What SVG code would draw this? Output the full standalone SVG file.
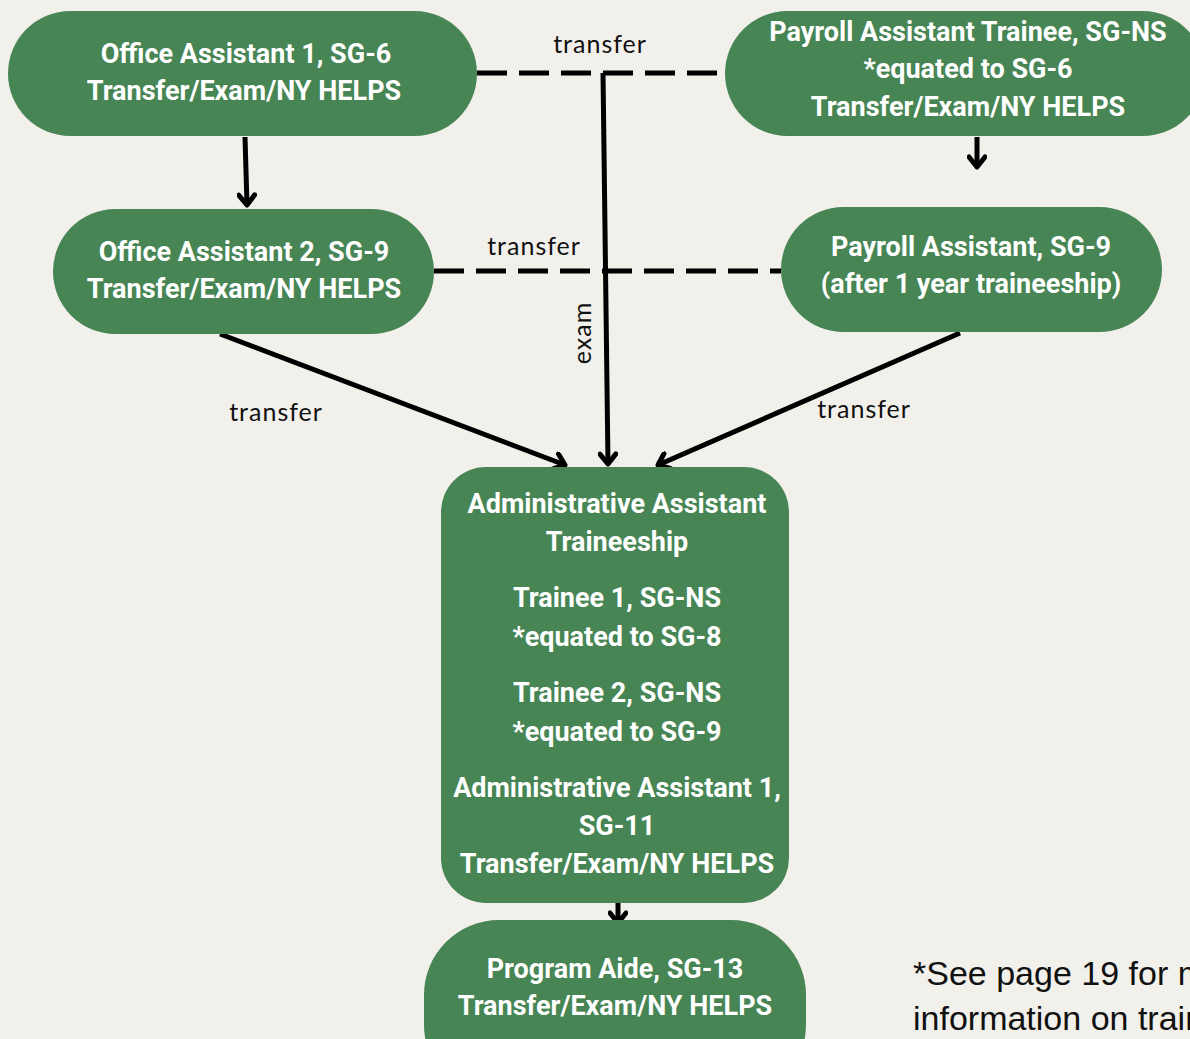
<svg xmlns="http://www.w3.org/2000/svg" width="1190" height="1039" viewBox="0 0 1190 1039">
<style>
.node{fill:#478555}
.nt{font-family:Roboto,"Liberation Sans",sans-serif;font-weight:bold;font-size:27px;fill:#fff;text-anchor:middle}
.ln{stroke:#000;stroke-width:5;fill:none}
.dash{stroke:#000;stroke-width:5;fill:none;stroke-dasharray:30,12}
.lbl{font-family:Lato,"Noto Sans",sans-serif;font-size:25px;letter-spacing:1px;fill:#111}
.foot{font-family:"Liberation Sans",Arial,sans-serif;font-size:34px;fill:#111}
</style>
<defs>
<marker id="ah" viewBox="0 0 20 20" refX="14" refY="10" markerWidth="20" markerHeight="20" markerUnits="userSpaceOnUse" orient="auto">
<path d="M4,2 L14,10 L4,18" fill="none" stroke="#000" stroke-width="5" stroke-linecap="round" stroke-linejoin="round"/>
</marker>
</defs>
<rect width="1190" height="1039" fill="#f2f0eb"/>
<g id="connectors">
<path class="dash" d="M477,73 H725"/>
<path class="dash" d="M434,271 H781"/>
<path class="ln" d="M245,137 L247,205" marker-end="url(#ah)"/>
<path class="ln" d="M603,73 L608,464" marker-end="url(#ah)"/>
<path class="ln" d="M977,137 L977,167" marker-end="url(#ah)"/>
<path class="ln" d="M220,334 L565,465" marker-end="url(#ah)"/>
<path class="ln" d="M960,333 L658,465" marker-end="url(#ah)"/>
<path class="ln" d="M618,893 L618,923" marker-end="url(#ah)"/>
<text class="lbl" x="600" y="53" text-anchor="middle">transfer</text>
<text class="lbl" x="534" y="255" text-anchor="middle">transfer</text>
<text class="lbl" x="276" y="421" text-anchor="middle">transfer</text>
<text class="lbl" x="864" y="418" text-anchor="middle">transfer</text>
<text class="lbl" x="0" y="0" text-anchor="middle" transform="translate(591,333) rotate(-90)">exam</text>
</g>
<g id="oa1">
<rect class="node" x="8" y="11" width="469" height="125" rx="62.5"/>
<text class="nt" x="246" y="63">Office Assistant 1, SG-6</text>
<text class="nt" x="244" y="100">Transfer/Exam/NY HELPS</text>
</g>
<g id="pat">
<rect class="node" x="725" y="11" width="480" height="125" rx="62.5"/>
<text class="nt" x="968" y="41">Payroll Assistant Trainee, SG-NS</text>
<text class="nt" x="968" y="78">*equated to SG-6</text>
<text class="nt" x="968" y="116">Transfer/Exam/NY HELPS</text>
</g>
<g id="oa2">
<rect class="node" x="53" y="209" width="381" height="125" rx="62.5"/>
<text class="nt" x="244" y="261">Office Assistant 2, SG-9</text>
<text class="nt" x="244" y="298">Transfer/Exam/NY HELPS</text>
</g>
<g id="pa">
<rect class="node" x="781" y="207" width="381" height="125" rx="62.5"/>
<text class="nt" x="971" y="256">Payroll Assistant, SG-9</text>
<text class="nt" x="971" y="293">(after 1 year traineeship)</text>
</g>
<g id="aat">
<rect class="node" x="441" y="467" width="348" height="436" rx="45"/>
<text class="nt" x="617" y="513">Administrative Assistant</text>
<text class="nt" x="617" y="551">Traineeship</text>
<text class="nt" x="617" y="607">Trainee 1, SG-NS</text>
<text class="nt" x="617" y="646">*equated to SG-8</text>
<text class="nt" x="617" y="702">Trainee 2, SG-NS</text>
<text class="nt" x="617" y="741">*equated to SG-9</text>
<text class="nt" x="617" y="797">Administrative Assistant 1,</text>
<text class="nt" x="617" y="835">SG-11</text>
<text class="nt" x="617" y="873">Transfer/Exam/NY HELPS</text>
</g>
<g id="pa13">
<rect class="node" x="424" y="920" width="382" height="180" rx="75"/>
<text class="nt" x="615" y="978">Program Aide, SG-13</text>
<text class="nt" x="615" y="1015">Transfer/Exam/NY HELPS</text>
</g>
<g id="footnote">
<text class="foot" x="913" y="985">*See page 19 for more</text>
<text class="foot" x="913" y="1030">information on traineeships</text>
</g>
</svg>
